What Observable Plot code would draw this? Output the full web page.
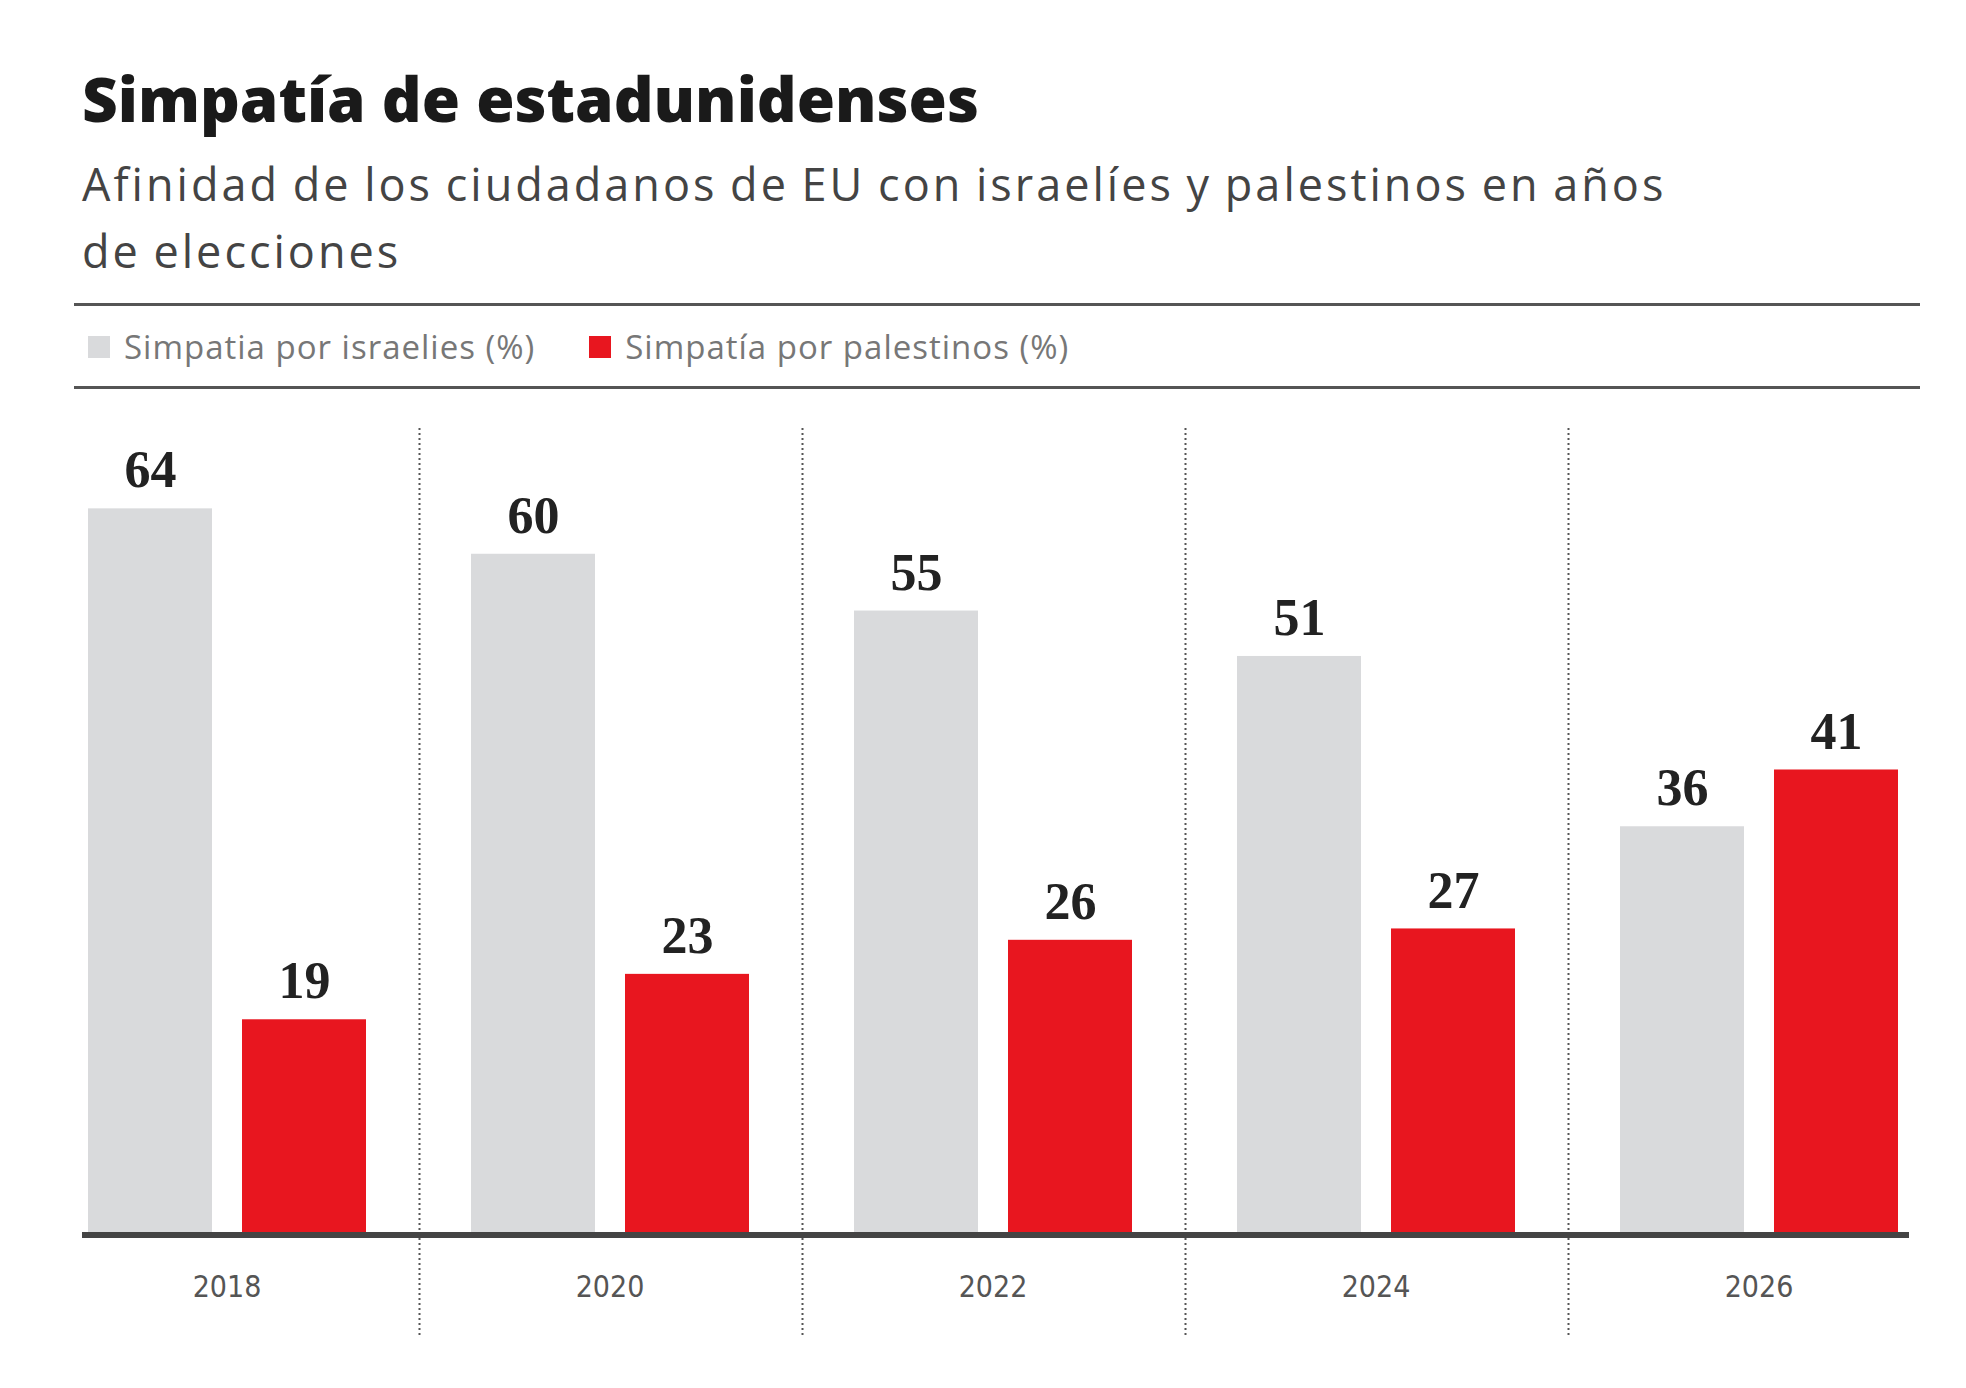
<!DOCTYPE html>
<html><head><meta charset="utf-8">
<script src="https://cdn.jsdelivr.net/npm/d3@7"></script>
<script src="https://cdn.jsdelivr.net/npm/@observablehq/plot@0.6"></script>
<style>
body{margin:0;background:#fff;width:1966px;height:1388px;overflow:hidden;position:relative;font-family:"Open Sans",sans-serif}
#title{position:absolute;left:82px;top:56px;font-size:62px;font-weight:800;color:#1a1a1a;letter-spacing:0px}
#sub{position:absolute;left:82px;top:150px;font-size:45px;line-height:67px;color:#444;width:1850px;letter-spacing:3px;word-spacing:-2px}
.rule{position:absolute;left:74px;width:1846px;height:3px;background:#555}
#legend{position:absolute;left:88px;top:324px;font-size:33px;color:#777;display:flex;align-items:center;letter-spacing:1px}
.sw{display:inline-block;width:22px;height:22px;margin-right:14px}
#chart{position:absolute;left:0;top:388px}
#base{position:absolute;left:82px;top:1232px;width:1827px;height:6px;background:#444}
</style></head><body>
<div id="title">Simpatía de estadunidenses</div>
<div id="sub">Afinidad de los ciudadanos de EU con israelíes y palestinos en años<br>de elecciones</div>
<div class="rule" style="top:303px"></div>
<div id="legend"></div>
<div class="rule" style="top:386px"></div>
<div id="chart"></div>
<div id="base"></div>
<script>
const years = ["2018","2020","2022","2024","2026"];
const israelis = [64,60,55,51,36];
const palestinos = [19,23,26,27,41];
const seriesKeys = ["isr","pal"];
const seriesLabels = ["Simpatia por israelies (%)","Simpatía por palestinos (%)"];
const colors = ["#d9dadc","#e8161f"];

const legend = document.getElementById("legend");
seriesLabels.forEach((l,i)=>{
  const s=document.createElement("span");
  s.style.cssText="display:flex;align-items:center;margin-right:54px";
  s.innerHTML=`<span class="sw" style="background:${colors[i]}"></span>${l}`;
  legend.appendChild(s);
});

const data = [];
years.forEach((y,i)=>{
  data.push({year:y, s:"isr", v:israelis[i]});
  data.push({year:y, s:"pal", v:palestinos[i]});
});
const seps = years.slice(1).map(y=>({year:y}));

const chart = Plot.plot({
  width:1966, height:960,
  marginLeft:35, marginRight:16, marginTop:0, marginBottom:113,
  fx:{domain:years, padding:0, label:null},
  x:{domain:seriesKeys, paddingInner:0.195, paddingOuter:0.34, axis:null},
  y:{domain:[0,74.6], axis:null},
  color:{domain:seriesKeys, range:colors},
  style:{fontFamily:"'Liberation Sans Narrow','DejaVu Sans Condensed',sans-serif", color:"#555"},
  marks:[
    Plot.ruleX(seps, {fx:"year", x:()=>"isr", dx:-114, y1:-8.8, y2:71.1, stroke:"#555", strokeWidth:2, strokeDasharray:"2,3"}),
    Plot.barY(data, {fx:"year", x:"s", y:"v", fill:"s"}),
    Plot.axisFx({anchor:"bottom", tickSize:0, tickPadding:40, fontSize:30, label:null, fill:"#555"}),
    Plot.text(data, {fx:"year", x:"s", y:"v", text:d=>String(d.v), dy:-38, fontSize:52, fontWeight:"bold", fontFamily:"'Liberation Serif',serif", fill:"#222"})
  ]
});
document.getElementById("chart").appendChild(chart);
</script>
</body></html>
